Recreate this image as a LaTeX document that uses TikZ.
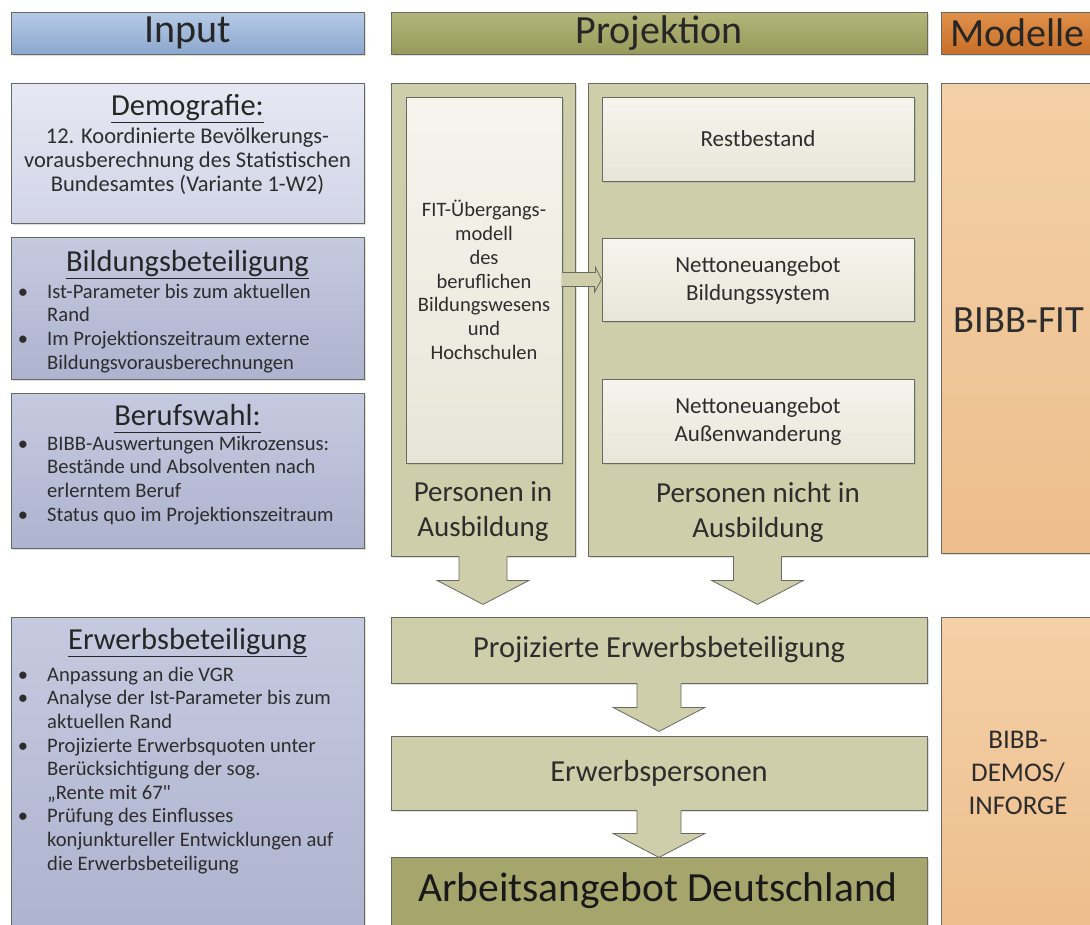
\documentclass[tikz,border=0pt]{standalone}
\usepackage{fontspec}
\setmainfont{Carlito}
\newfontfamily\qfont{Carlito}
\usetikzlibrary{calc,shadows}
\definecolor{bd}{RGB}{105,105,100}
\definecolor{txt}{RGB}{45,45,45}
\definecolor{inTop}{RGB}{182,202,230}
\definecolor{inBot}{RGB}{140,168,206}
\definecolor{prTop}{RGB}{180,182,122}
\definecolor{prBot}{RGB}{150,154,90}
\definecolor{moTop}{RGB}{225,145,75}
\definecolor{moBot}{RGB}{200,110,40}
\definecolor{demTop}{RGB}{230,232,243}
\definecolor{demBot}{RGB}{210,213,231}
\definecolor{lavTop}{RGB}{198,202,224}
\definecolor{lavBot}{RGB}{174,179,207}
\definecolor{olv}{RGB}{206,206,170}
\definecolor{innTop}{RGB}{245,245,238}
\definecolor{innBot}{RGB}{230,230,216}
\definecolor{arbC}{RGB}{166,166,108}
\definecolor{orTop}{RGB}{244,208,168}
\definecolor{orBot}{RGB}{237,190,140}
\newcommand\myul[1]{\setbox0\hbox{#1}\rlap{\rule[-0.26em]{\wd0}{1.1pt}}\box0}
\newcommand\bul{\llap{\textbullet\hspace{19pt}}}
\newcommand\blkdown[5]{%
  \fill[olv] ($(#1)+(-#2,-1)$) -- ++(0,#4+1) -- ++(#2-#3,0) -- ++(#3,#5) -- ++(#3,-#5) -- ++(#2-#3,0) -- ++(0,-#4-1) -- cycle;
  \draw[bd, line width=0.8pt, line join=miter] ($(#1)+(-#2,0)$) -- ++(0,#4) -- ++(#2-#3,0) -- ++(#3,#5) -- ++(#3,-#5) -- ++(#2-#3,0) -- ++(0,-#4);}
\begin{document}
\begin{tikzpicture}[x=1pt,y=-1pt,
  box/.style={draw=bd, line width=0.8pt, inner sep=0, sharp corners,
    drop shadow={shadow xshift=1.5pt, shadow yshift=-1.5pt, opacity=0.25}},
  inhead/.style={box, top color=inTop, bottom color=inBot},
  prhead/.style={box, top color=prTop, bottom color=prBot},
  mohead/.style={box, top color=moTop, bottom color=moBot},
  dembox/.style={box, top color=demTop, bottom color=demBot},
  lavbox/.style={box, top color=lavTop, bottom color=lavBot},
  olvbox/.style={box, fill=olv},
  innbox/.style={box, top color=innTop, bottom color=innBot},
  arbbox/.style={box, fill=arbC},
  orbox/.style={box, top color=orTop, bottom color=orBot},
  tx/.style={inner sep=0, text=txt, align=center},
  hd/.style={tx, text=black!85, font=\fontsize{40}{44}\selectfont},
  ttl/.style={tx, text=black!85, font=\fontsize{30.5}{34}\selectfont},
  body/.style={tx, font=\fontsize{20.5}{23.8}\selectfont},
  lst/.style={inner sep=0, text=txt, align=left, font=\fontsize{20.6}{23.6}\selectfont},
  mid/.style={tx, font=\fontsize{23}{28}\selectfont},
  big/.style={tx, font=\fontsize{29}{35}\selectfont},
  chain/.style={tx, font=\fontsize{30.5}{34}\selectfont}]
\useasboundingbox (0,0) rectangle (1090,924);

% headers
\node[inhead, minimum width=353pt, minimum height=42pt] (inHead) at (187.5,33) {};
\node[prhead, minimum width=536pt, minimum height=42pt] (prHead) at (659,33) {};
\node[mohead, minimum width=154pt, minimum height=42pt] (moHead) at (1018,33) {};
\node[hd] (inHeadT) at (187.5,33) {Input};
\node[hd] (prHeadT) at (659,33) {Projektion};
\node[hd, anchor=west] (moHeadT) at (950,33) {Modelle};

% input boxes
\node[dembox, minimum width=353pt, minimum height=140pt] (demo) at (187.5,153) {};
\node[lavbox, minimum width=353pt, minimum height=142pt] (bild) at (187.5,308) {};
\node[lavbox, minimum width=353pt, minimum height=155pt] (beruf) at (187.5,470.5) {};
\node[lavbox, minimum width=353pt, minimum height=313pt] (erwerb) at (187.5,773.5) {};

\node[ttl, anchor=base] (demoT) at (187.5,115) {\myul{Demografie:}};
\node[body, anchor=north, font=\fontsize{22.5}{24}\selectfont] (demoB) at (187.5,126.2) {\strut 12. Koordinierte Bevölkerungs-\\vorausberechnung des Statistischen\\Bundesamtes (Variante 1-W2)};

\node[ttl, anchor=base] (bildT) at (187.5,271) {\myul{Bildungsbeteiligung}};
\node[lst, anchor=north west] (bildB) at (47,281.5) {\strut\bul Ist-Parameter bis zum aktuellen\\Rand\\\bul Im Projektionszeitraum externe\\Bildungsvorausberechnungen};

\node[ttl, anchor=base] (berufT) at (187.5,425) {\myul{Berufswahl:}};
\node[lst, anchor=north west] (berufB) at (47,433.5) {\strut\bul BIBB-Auswertungen Mikrozensus:\\Bestände und Absolventen nach\\erlerntem Beruf\\\bul Status quo im Projektionszeitraum};

\node[ttl, anchor=base] (erwerbT) at (187.5,649) {\myul{Erwerbsbeteiligung}};
\node[lst, anchor=north west] (erwerbB) at (47,664.5) {\strut\bul Anpassung an die VGR\\\bul Analyse der Ist-Parameter bis zum\\aktuellen Rand\\\bul Projizierte Erwerbsquoten unter\\Berücksichtigung der sog.\\„Rente mit 67{\qfont"}\\\bul Prüfung des Einflusses\\konjunktureller Entwicklungen auf\\die Erwerbsbeteiligung};

% projection columns
\node[olvbox, minimum width=184pt, minimum height=473pt] (colL) at (483,319.5) {};
\node[olvbox, minimum width=339pt, minimum height=473pt] (colR) at (757.5,319.5) {};
\node[innbox, minimum width=156pt, minimum height=366pt] (fit) at (484,280) {};
\node[body] (fitT) at (484,280) {FIT-Übergangs-\\modell\\des\\beruflichen\\Bildungswesens\\und\\Hochschulen};
\node[innbox, minimum width=312pt, minimum height=84pt] (rest) at (758,139) {};
\node[mid] (restT) at (758,139) {Restbestand};
\node[innbox, minimum width=312pt, minimum height=83pt] (netB) at (758,279.5) {};
\node[mid] (netBT) at (758,280) {Nettoneuangebot\\Bildungssystem};
\node[innbox, minimum width=312pt, minimum height=84pt] (netA) at (758,421) {};
\node[mid] (netAT) at (758,421) {Nettoneuangebot\\Außenwanderung};
\node[big] (persL) at (483,512) {Personen in\\Ausbildung};
\node[big] (persR) at (758,512) {Personen nicht in\\Ausbildung};

% small arrow FIT -> Netto Bildungssystem
\coordinate (sa) at (fit.east |- netB.west);
\fill[olv] ($(sa)+(-1,-7)$) -- ++(34,0) -- ++(0,-5.5) -- ++(7,12.5) -- ++(-7,12.5) -- ++(0,-5.5) -- ++(-34,0) -- cycle;
\draw[bd, line width=0.8pt] ($(sa)+(0,-7)$) -- ++(33,0) -- ++(0,-5.5) -- (netB.west) -- ++(-7,12.5) -- ++(0,-5.5) -- ++(-33,0);

% lower chain
\node[olvbox, minimum width=536pt, minimum height=66pt] (projE) at (659,650) {};
\node[chain] (projET) at (659,650) {Projizierte Erwerbsbeteiligung};
\node[olvbox, minimum width=536pt, minimum height=74pt] (erwP) at (659,773) {};
\node[chain] (erwPT) at (659,773) {Erwerbspersonen};
\node[arbbox, minimum width=536pt, minimum height=73pt] (arb) at (659,893.5) {};
\node[hd, text=black!90, font=\fontsize{41.5}{44}\selectfont] (arbT) at (658,891) {Arbeitsangebot Deutschland};

% block arrows
\blkdown{colL.south}{24}{46}{24}{24}
\blkdown{colR.south}{24}{46}{24}{24}
\blkdown{projE.south}{22}{46}{24}{24}
\blkdown{erwP.south}{22}{46}{23}{24}

% model boxes
\node[orbox, minimum width=154pt, minimum height=470pt] (bibbfit) at (1018,318) {};
\node[tx, font=\fontsize{38.5}{40}\selectfont] (bibbfitT) at (1019,320) {BIBB-FIT};
\node[orbox, minimum width=154pt, minimum height=313pt] (demos) at (1018,773.5) {};
\node[tx, font=\fontsize{27}{33}\selectfont] (demosT) at (1018,773) {BIBB-\\DEMOS/\\INFORGE};
\end{tikzpicture}
\end{document}
